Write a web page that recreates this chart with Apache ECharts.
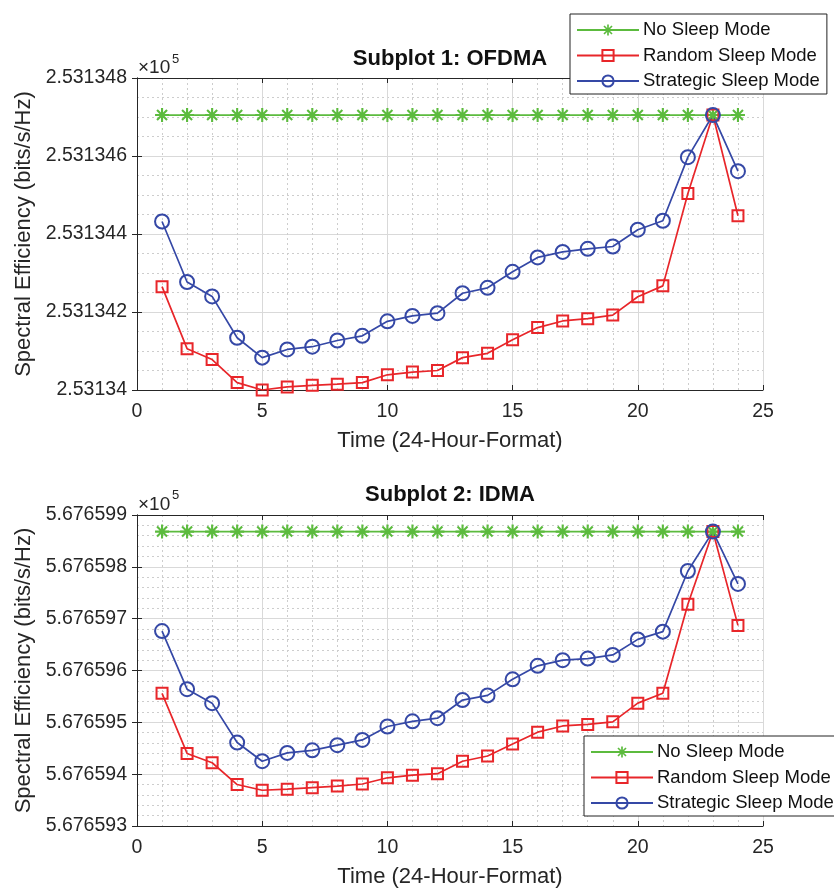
<!DOCTYPE html>
<html>
<head>
<meta charset="utf-8">
<title>Spectral Efficiency - OFDMA / IDMA</title>
<script src="https://cdn.jsdelivr.net/npm/echarts@6/dist/echarts.min.js"></script>
<style>
    html, body { margin: 0; padding: 0; background: #fff; }
    #chart { width: 834px; height: 891px; }
</style>
</head>
<body>
<div id="chart"></div>
<script>
// x: hour of day
var hours = [1, 2, 3, 4, 5, 6, 7, 8, 9, 10, 11, 12, 13, 14, 15, 16, 17, 18, 19, 20, 21, 22, 23, 24];

// subplot 1 (OFDMA), values in bits/s/Hz
var ofdmaNoSleep = [253134.705, 253134.705, 253134.705, 253134.705, 253134.705, 253134.705, 253134.705, 253134.705,
    253134.705, 253134.705, 253134.705, 253134.705, 253134.705, 253134.705, 253134.705, 253134.705,
    253134.705, 253134.705, 253134.705, 253134.705, 253134.705, 253134.705, 253134.705, 253134.705];
var ofdmaRandom = [253134.265, 253134.106, 253134.078, 253134.019, 253134.000, 253134.008, 253134.012, 253134.015,
    253134.019, 253134.039, 253134.046, 253134.050, 253134.083, 253134.094, 253134.129, 253134.160,
    253134.177, 253134.183, 253134.192, 253134.239, 253134.267, 253134.504, 253134.705, 253134.447];
var ofdmaStrategic = [253134.432, 253134.277, 253134.240, 253134.134, 253134.083, 253134.104, 253134.111, 253134.127,
    253134.139, 253134.176, 253134.190, 253134.197, 253134.248, 253134.262, 253134.303, 253134.340,
    253134.354, 253134.362, 253134.368, 253134.411, 253134.434, 253134.597, 253134.705, 253134.561];

// subplot 2 (IDMA)
var idmaNoSleep = [567659.868, 567659.868, 567659.868, 567659.868, 567659.868, 567659.868, 567659.868, 567659.868,
    567659.868, 567659.868, 567659.868, 567659.868, 567659.868, 567659.868, 567659.868, 567659.868,
    567659.868, 567659.868, 567659.868, 567659.868, 567659.868, 567659.868, 567659.868, 567659.868];
var idmaRandom = [567659.556, 567659.440, 567659.422, 567659.380, 567659.369, 567659.371, 567659.374, 567659.377,
    567659.381, 567659.393, 567659.398, 567659.401, 567659.425, 567659.435, 567659.458, 567659.481,
    567659.493, 567659.496, 567659.501, 567659.537, 567659.556, 567659.728, 567659.868, 567659.687];
var idmaStrategic = [567659.676, 567659.564, 567659.537, 567659.461, 567659.425, 567659.441, 567659.446, 567659.456,
    567659.466, 567659.492, 567659.502, 567659.508, 567659.543, 567659.552, 567659.583, 567659.609,
    567659.620, 567659.623, 567659.630, 567659.660, 567659.675, 567659.792, 567659.868, 567659.767];

// axis ranges / ticks
var xTicks = [0, 25, 5];
var ofdmaTicks = [253134.0, 253134.8, 0.2];
var idmaTicks = [567659.3, 567659.9, 0.1];

var seriesNames = ['No Sleep Mode', 'Random Sleep Mode', 'Strategic Sleep Mode'];

var FONT = '"Liberation Sans", Arial, Helvetica, sans-serif';
var TXT = '#262626';
var GREEN = '#5cbb3e', RED = '#e8262a', BLUE = '#3548a6';
// matlab style asterisk marker (thick arms)
var STAR = 'path://M0 8.5H20V11.5H0Z M8.5 0H11.5V20H8.5Z M3.9 1.8L18.2 16.1L16.1 18.2L1.8 3.9Z M16.1 1.8L18.2 3.9L3.9 18.2L1.8 16.1Z';

function pairs(vals) {
    return hours.map(function (h, i) { return [h, vals[i]]; });
}

// tick label like matlab: value / 1e5, trailing zeros dropped
function fmtE5(v) {
    return (v / 1e5).toFixed(6).replace(/0+$/, '');
}

function xAxes(gi) {
    return [{
        gridIndex: gi, type: 'value', position: 'bottom',
        min: xTicks[0], max: xTicks[1], interval: xTicks[2],
        name: 'Time (24-Hour-Format)', nameLocation: 'middle', nameGap: 40,
        nameTextStyle: { fontFamily: FONT, fontSize: 22, color: TXT },
        axisLine: { lineStyle: { color: TXT, width: 1 } },
        axisTick: { inside: true, length: 5, lineStyle: { color: TXT } },
        axisLabel: { fontFamily: FONT, fontSize: 19.5, color: TXT, margin: 12 },
        splitLine: { show: true, lineStyle: { color: '#d9d9d9', width: 1 } },
        minorTick: { show: false, splitNumber: 5 },
        minorSplitLine: { show: true, lineStyle: { color: '#cdcdcd', width: 1, type: [2, 3] } }
    }, {
        gridIndex: gi, type: 'value', position: 'top',
        min: xTicks[0], max: xTicks[1], interval: xTicks[2],
        axisLine: { lineStyle: { color: TXT, width: 1 } },
        axisTick: { inside: true, length: 5, lineStyle: { color: TXT } },
        axisLabel: { show: false },
        splitLine: { show: false }
    }];
}

function yAxes(gi, t, minorSplit) {
    return [{
        gridIndex: gi, type: 'value', position: 'left',
        min: t[0], max: t[1], interval: t[2],
        name: 'Spectral Efficiency (bits/s/Hz)', nameLocation: 'middle', nameGap: 102,
        nameTextStyle: { fontFamily: FONT, fontSize: 22, color: TXT },
        axisLine: { show: true, lineStyle: { color: TXT, width: 1 } },
        axisTick: { show: true, inside: true, length: 5, lineStyle: { color: TXT } },
        axisLabel: { fontFamily: FONT, fontSize: 19.5, color: TXT, margin: 10, formatter: fmtE5 },
        splitLine: { show: true, lineStyle: { color: '#d9d9d9', width: 1 } },
        minorTick: { show: false, splitNumber: minorSplit },
        minorSplitLine: { show: true, lineStyle: { color: '#cdcdcd', width: 1, type: [2, 3] } }
    }, {
        gridIndex: gi, type: 'value', position: 'right',
        min: t[0], max: t[1], interval: t[2],
        axisLine: { show: true, lineStyle: { color: TXT, width: 1 } },
        axisTick: { show: true, inside: true, length: 5, lineStyle: { color: TXT } },
        axisLabel: { show: false },
        splitLine: { show: false }
    }];
}

function lineSeries(name, vals, axisIdx, color, symbol, size, hollow) {
    return {
        name: name, type: 'line',
        xAxisIndex: axisIdx, yAxisIndex: axisIdx,
        data: pairs(vals),
        symbol: symbol, symbolSize: size, showAllSymbol: true,
        lineStyle: { color: color, width: 1.7 },
        itemStyle: hollow ? { color: 'none', borderColor: color, borderWidth: 2 } : { color: color, borderWidth: 0 },
        animation: false
    };
}

function legendAt(left, top) {
    return {
        orient: 'vertical', left: left, top: top,
        data: seriesNames,
        itemWidth: 62, itemHeight: 14, itemGap: 5.5,
        padding: [6, 7, 3, 6],
        backgroundColor: '#fff', borderColor: '#222', borderWidth: 1, borderRadius: 0,
        selectedMode: false,
        textStyle: { fontFamily: FONT, fontSize: 18.5, color: '#111', lineHeight: 20, padding: [0, 0, 0, -1] }
    };
}

var chart = echarts.init(document.getElementById('chart'), null, { renderer: 'canvas' });

var option = {
    backgroundColor: '#fff',
    animation: false,
    grid: [
        { left: 137, top: 78, width: 626, height: 312, outerBoundsMode: 'none' },
        { left: 137, top: 515, width: 626, height: 311, outerBoundsMode: 'none' }
    ],
    xAxis: xAxes(0).concat(xAxes(1)),
    yAxis: yAxes(0, ofdmaTicks, 4).concat(yAxes(1, idmaTicks, 5)),
    legend: [legendAt(570, 14), legendAt(584, 736)],
    graphic: [
        { type: 'text', x: 450, y: 59, style: { text: 'Subplot 1: OFDMA', font: 'bold 22px ' + FONT, fill: '#111', align: 'center', verticalAlign: 'middle' } },
        { type: 'text', x: 450, y: 495, style: { text: 'Subplot 2: IDMA', font: 'bold 22px ' + FONT, fill: '#111', align: 'center', verticalAlign: 'middle' } },
        // x10^5 exponent labels
        { type: 'text', x: 138, y: 68, style: { text: '\u00d710', font: '19px ' + FONT, fill: TXT, verticalAlign: 'middle' } },
        { type: 'text', x: 172, y: 59, style: { text: '5', font: '13px ' + FONT, fill: TXT, verticalAlign: 'middle' } },
        { type: 'text', x: 138, y: 505, style: { text: '\u00d710', font: '19px ' + FONT, fill: TXT, verticalAlign: 'middle' } },
        { type: 'text', x: 172, y: 495, style: { text: '5', font: '13px ' + FONT, fill: TXT, verticalAlign: 'middle' } }
    ],
    series: [
        lineSeries(seriesNames[0], ofdmaNoSleep, 0, GREEN, STAR, 14, false),
        lineSeries(seriesNames[1], ofdmaRandom, 0, RED, 'rect', 11, true),
        lineSeries(seriesNames[2], ofdmaStrategic, 0, BLUE, 'circle', 14, true),
        lineSeries(seriesNames[0], idmaNoSleep, 2, GREEN, STAR, 14, false),
        lineSeries(seriesNames[1], idmaRandom, 2, RED, 'rect', 11, true),
        lineSeries(seriesNames[2], idmaStrategic, 2, BLUE, 'circle', 14, true)
    ]
};
chart.setOption(option);
</script>
</body>
</html>
